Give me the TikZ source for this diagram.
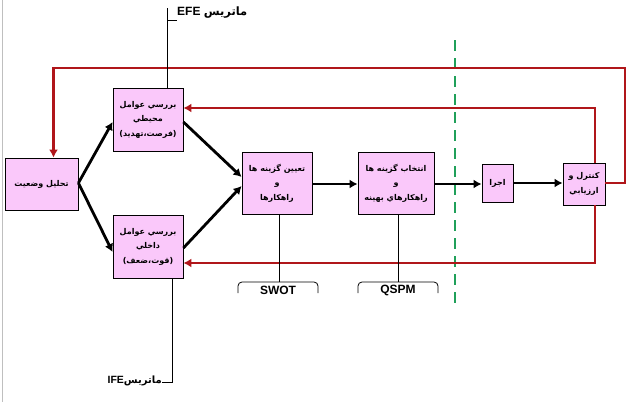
\documentclass[tikz,border=0pt]{standalone}
\usepackage{fontspec}
\setmainfont{Liberation Sans}
\newfontfamily\arfont[Script=Arabic]{DejaVu Sans}
\TeXXeTstate=1
\usetikzlibrary{arrows.meta}
\newcommand{\fatext}[1]{\beginR#1\endR}
\definecolor{boxpink}{RGB}{250,200,250}
\definecolor{darkred}{RGB}{176,22,26}
\definecolor{dashgreen}{RGB}{32,160,90}
\tikzset{
  stagebox/.style={draw=black, line width=0.8pt, fill=boxpink, inner sep=0pt, align=center,
    font=\arfont\bfseries\fontsize{8}{14.5}\selectfont},
  flow/.style={line width=2.8pt, -{Latex[length=8pt,width=9pt]}},
  feedback/.style={draw=darkred, line width=2.8pt, -{Latex[length=8pt,width=9pt]}},
  thin/.style={draw=black, line width=0.8pt},
  tool/.style={font=\bfseries\fontsize{12}{12}\selectfont, inner sep=0pt},
}
\begin{document}
\begin{tikzpicture}[x=1pt,y=-1pt]
\useasboundingbox (0,0) rectangle (633,402);
\fill[white] (0,0) rectangle (633,402);
\draw[black!25, line width=1pt] (2,0) -- (2,402);

% stage boxes
\node[stagebox, minimum width=73pt, minimum height=52pt] (tahlil) at (41.5,184) {\fatext{تحلیل وضعیت}};
\node[stagebox, minimum width=70pt, minimum height=63pt] (mohiti) at (148,119.5) {\fatext{بررسي عوامل}\\\fatext{محيطي}\\\fatext{(فرصت،تهديد)}};
\node[stagebox, minimum width=70pt, minimum height=63pt] (dakheli) at (148,246.5) {\fatext{بررسي عوامل}\\\fatext{داخلي}\\\fatext{(قوت،ضعف)}};
\node[stagebox, minimum width=70pt, minimum height=62pt] (tayin) at (277,183) {\fatext{تعيين گزينه ها}\\\fatext{و}\\\fatext{راهكارها}};
\node[stagebox, minimum width=76pt, minimum height=62pt] (entekhab) at (396,183) {\fatext{انتخاب گزينه ها}\\\fatext{و}\\\fatext{راهكارهاي بهينه}};
\node[stagebox, minimum width=31pt, minimum height=38pt] (ejra) at (497.5,183) {\fatext{اجرا}};
\node[stagebox, minimum width=42pt, minimum height=42pt] (kontrol) at (584,184) {\fatext{كنترل و}\\\fatext{ارزيابي}};

% green dashed separator
\coordinate (gtop) at (455,40);
\coordinate (gbot) at (455,306);
\draw[dashgreen, line width=2.8pt, dash pattern=on 11pt off 7pt] (gtop) -- (gbot);

% black flow arrows
\draw[flow] ([yshift=1pt]tahlil.east) -- ([yshift=-2.5pt]mohiti.west);
\draw[flow] ([yshift=1pt]tahlil.east) -- ([yshift=-5.5pt]dakheli.west);
\draw[flow] ([yshift=-2.5pt]mohiti.east) -- ([yshift=6pt]tayin.west);
\draw[flow] ([yshift=-1.5pt]dakheli.east) -- ([yshift=-3pt]tayin.west);
\draw[flow] ([yshift=-1pt]tayin.east) -- ([yshift=-1pt]entekhab.west);
\draw[flow] ([yshift=-1pt]entekhab.east) -- ([yshift=-1pt]ejra.west);
\draw[flow] (ejra.east) -- ([yshift=1pt]kontrol.west);

% red feedback loops
\coordinate (rtop) at (625,68);
\draw[feedback] ([yshift=1pt]kontrol.east) -| (rtop) -| ([xshift=12pt]tahlil.north);
\draw[feedback] ([xshift=11pt]kontrol.north) |- ([yshift=11.5pt]mohiti.east);
\draw[feedback] ([xshift=11pt]kontrol.south) |- ([yshift=-16.5pt]dakheli.east);

% EFE label
\coordinate (efetop) at (167,8);
\coordinate (efetick) at (167,20);
\coordinate (efeend) at (177,20);
\draw[thin] ([xshift=19pt]mohiti.north) -- (efetop);
\draw[thin] (efetick) -- (efeend);
\node[anchor=west, inner sep=0pt, font=\bfseries\fontsize{12}{12}\selectfont] (efe) at (177,13)
  {EFE {\arfont\fontsize{11.5}{11.5}\selectfont ماتریس}};

% IFE label
\coordinate (ifecorner) at (172,382);
\coordinate (ifeend) at (162,382);
\draw[thin] ([xshift=24pt]dakheli.south) -- (ifecorner) -- (ifeend);
\node[anchor=east, inner sep=0pt, font=\bfseries\fontsize{10.5}{10.5}\selectfont] (ife) at (162,381)
  {IFE{\arfont\fontsize{10}{10}\selectfont ماتریس}};

% SWOT bracket
\node[tool] (swot) at (278,290) {SWOT};
\coordinate (swottop) at (279,282);
\draw[thin] ([xshift=2pt]tayin.south) -- (swottop);
\draw[thin, rounded corners=4pt] (238,293) -- (238,282) -- (318,282) -- (318,293);

% QSPM bracket
\node[tool] (qspm) at (398,290) {QSPM};
\coordinate (qspmtop) at (398,282);
\draw[thin] ([xshift=2pt]entekhab.south) -- (qspmtop);
\draw[thin, rounded corners=4pt] (358,293) -- (358,282) -- (438,282) -- (438,293);
\end{tikzpicture}
\end{document}
